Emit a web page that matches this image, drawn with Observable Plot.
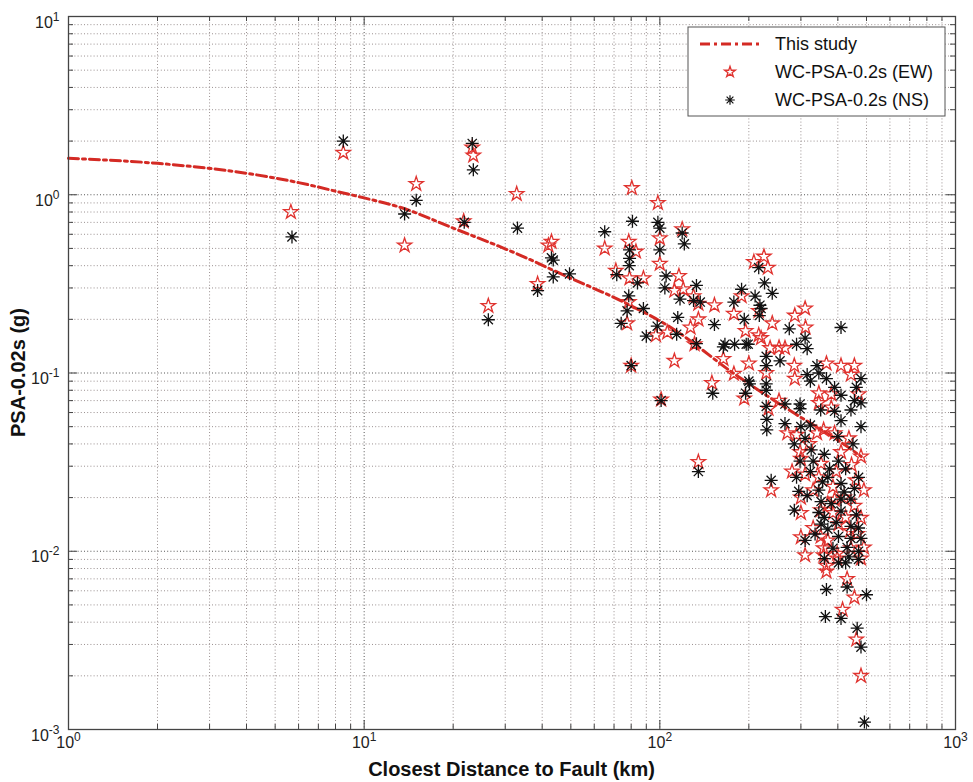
<!DOCTYPE html>
<html><head><meta charset="utf-8">
<script src="https://cdn.jsdelivr.net/npm/d3@7"></script>
<script src="https://cdn.jsdelivr.net/npm/@observablehq/plot@0.6"></script>
<style>body{margin:0;background:#fff}</style>
</head><body><div id="chart"></div>
<script>
// ---- data ----
const curveDistance = [1, 2, 4, 6, 8.35, 10, 13.4, 20, 33, 49, 74, 109, 180, 287, 400, 480];
const curvePSA = [1.6, 1.5, 1.32, 1.17, 1.03, 0.96, 0.845, 0.65, 0.465, 0.345, 0.254, 0.18, 0.098, 0.059, 0.042, 0.034];

const ewPoints = [
[5.65,0.80],[8.5,1.72],[13.7,0.52],[15,1.15],[21.7,0.71],[23.2,1.84],[23.4,1.66],[32.8,1.01],[26.3,0.238],
[43,0.545],[42,0.52],[38.6,0.316],[80.4,1.09],[98.5,0.90],[65.1,0.50],[100,0.57],[100,0.41],[119,0.64],
[78.5,0.545],[83,0.48],[71,0.375],[79,0.34],[88,0.34],[78.5,0.25],[77.5,0.19],[97,0.163],[106,0.169],
[116,0.35],[112,0.29],[120,0.295],[130,0.27],[135,0.245],[153,0.24],[135,0.20],[127,0.18],[131,0.145],
[189,0.27],[178,0.215],[195,0.172],[216,0.223],[208,0.42],[216,0.163],[225,0.45],[232,0.39],[240,0.19],
[286,0.21],[310,0.23],[311,0.18],[220,0.157],[236,0.138],[253,0.139],[265,0.138],[285,0.11],[200,0.113],
[229,0.10],[286,0.093],[366,0.113],[410,0.11],[455,0.11],[345,0.077],[380,0.076],[443,0.098],[470,0.076],
[253,0.07],[345,0.068],[380,0.064],[233,0.063],[270,0.046],[340,0.046],[358,0.048],[390,0.046],[436,0.043],
[298,0.036],[300,0.033],[479,0.034],[351,0.031],[310,0.027],[345,0.026],[385,0.023],[490,0.022],[300,0.020],
[370,0.0185],[455,0.018],[300,0.0164],[385,0.0164],[479,0.0154],[402,0.0142],[350,0.0121],[358,0.0104],
[443,0.0104],[398,0.0091],[479,0.0091],[238,0.022],[135,0.0317],[80,0.11],[101,0.071],[112,0.117],
[150,0.088],[164,0.12],[178,0.099],[193,0.072],[358,0.0095],[398,0.0097],[490,0.0105],[366,0.0083],
[366,0.0077],[430,0.007],[455,0.0055],[415,0.0047],[462,0.0032],[479,0.0020],
[320,0.04],[290,0.045],[330,0.022],[395,0.028],[420,0.02],[440,0.013],[330,0.0135],[300,0.012],[460,0.025],
[410,0.036],[280,0.028],[370,0.0115],[425,0.0155],[350,0.017],[465,0.0125],[310,0.0095],[390,0.0195],[445,0.0305]
];

const nsPoints = [
[5.7,0.58],[8.5,2.0],[13.7,0.78],[15,0.93],[21.8,0.70],[23.2,1.94],[23.4,1.38],[33,0.65],[26.3,0.199],
[43,0.443],[43.6,0.43],[43.6,0.346],[38.6,0.29],[49.5,0.36],[80.8,0.71],[65.1,0.62],[98.5,0.70],[100,0.65],
[100,0.49],[119,0.61],[121,0.53],[79,0.49],[79,0.44],[78.8,0.40],[71.5,0.356],[84,0.32],[78.5,0.271],
[77.5,0.223],[88,0.23],[74,0.19],[90,0.161],[98,0.183],[114,0.165],[105,0.35],[104,0.30],[117,0.26],
[133,0.31],[130,0.255],[137,0.25],[115,0.205],[153,0.187],[133,0.146],[166,0.145],[179,0.145],[199,0.145],
[178,0.25],[189,0.295],[210,0.27],[193,0.20],[218,0.24],[216,0.39],[226,0.32],[240,0.28],[220,0.23],
[217,0.21],[410,0.18],[274,0.177],[310,0.157],[315,0.137],[290,0.145],[196,0.145],[229,0.124],[229,0.11],
[255,0.117],[200,0.09],[229,0.087],[229,0.08],[315,0.098],[340,0.11],[366,0.093],[345,0.10],[323,0.09],
[390,0.083],[479,0.093],[462,0.083],[455,0.07],[410,0.075],[298,0.067],[265,0.067],[229,0.065],[230,0.055],
[230,0.048],[265,0.052],[300,0.05],[298,0.063],[350,0.062],[390,0.061],[443,0.062],[479,0.068],[479,0.05],
[410,0.054],[323,0.051],[310,0.043],[325,0.037],[298,0.032],[360,0.035],[402,0.032],[425,0.029],[323,0.028],
[370,0.026],[410,0.024],[470,0.026],[295,0.0217],[345,0.022],[351,0.019],[410,0.0196],[443,0.0196],
[285,0.017],[360,0.0155],[410,0.0168],[462,0.016],[351,0.0142],[443,0.0138],[370,0.0133],[402,0.0121],
[443,0.0118],[479,0.0118],[385,0.0104],[470,0.010],[360,0.0091],[436,0.0093],[238,0.025],[135,0.028],
[80,0.11],[101,0.07],[151,0.077],[201,0.087],[195,0.077],[164,0.14],[402,0.0086],[425,0.0086],[470,0.009],
[366,0.0061],[430,0.0063],[500,0.0057],[363,0.0043],[410,0.0042],[465,0.0037],[479,0.0029],[492,0.0011],
[330,0.032],[285,0.04],[345,0.0165],[380,0.0185],[420,0.0215],[455,0.0225],[335,0.0125],[310,0.0115],
[395,0.0145],[430,0.0105],[290,0.026],[375,0.029],[450,0.04],[315,0.0205],[470,0.0135],[355,0.0245],[400,0.044]
];

const xMajorTicks = [1, 10, 100, 1000];
const yMajorTicks = [0.001, 0.01, 0.1, 1, 10];
const xMinorTicks = [2,3,4,5,6,7,8,9,20,30,40,50,60,70,80,90,200,300,400,500,600,700,800,900];
const yMinorTicks = [0.002,0.003,0.004,0.005,0.006,0.007,0.008,0.009,0.02,0.03,0.04,0.05,0.06,0.07,0.08,0.09,
  0.2,0.3,0.4,0.5,0.6,0.7,0.8,0.9,2,3,4,5,6,7,8,9];
const legendLabels = ["This study", "WC-PSA-0.2s (EW)", "WC-PSA-0.2s (NS)"];
const xLabel = "Closest Distance to Fault (km)";
const yLabel = "PSA-0.02s (g)";

// ---- build ----
const curve = curveDistance.map((d, i) => ({d, g: curvePSA[i]}));
const ew = ewPoints.map(([d, g]) => ({d, g}));
const ns = nsPoints.map(([d, g]) => ({d, g}));

const W = 973, H = 782, mL = 68, mR = 18, mT = 16, mB = 53;
const innerH = H - mT - mB, innerW = W - mL - mR;
const RED = "#e0332f", CURVE = "#d42a24";

const asterisk = {
  draw(ctx, size) {
    const r = Math.sqrt(size / Math.PI), q = r * Math.SQRT1_2;
    ctx.moveTo(-r, 0); ctx.lineTo(r, 0);
    ctx.moveTo(0, -r); ctx.lineTo(0, r);
    ctx.moveTo(-q, -q); ctx.lineTo(q, q);
    ctx.moveTo(-q, q); ctx.lineTo(q, -q);
  }
};

const gridMinor = {stroke: "#9a9090", strokeDasharray: "1,2.2", strokeWidth: 1};
const gridMajor = {stroke: "#555", strokeDasharray: "1,2.2", strokeWidth: 1};
const tickStyle = {stroke: "#444", strokeWidth: 1};
const MAJ = 9, MIN = 5;

const plot = Plot.plot({
  width: W, height: H,
  marginLeft: mL, marginRight: mR, marginTop: mT, marginBottom: mB,
  style: {fontFamily: "'Liberation Sans', Arial, sans-serif", fontSize: "16px", background: "#fff", color: "#222"},
  x: {type: "log", domain: [1, 1000]},
  y: {type: "log", domain: [0.001, 10]},
  marks: [
    Plot.ruleX(xMinorTicks, {x: d => d, ...gridMinor}),
    Plot.ruleY(yMinorTicks, {y: d => d, ...gridMinor}),
    Plot.ruleX(xMajorTicks, {x: d => d, ...gridMajor}),
    Plot.ruleY(yMajorTicks, {y: d => d, ...gridMajor}),
    Plot.ruleX(xMajorTicks, {x: d => d, insetTop: innerH - MAJ, ...tickStyle}),
    Plot.ruleX(xMajorTicks, {x: d => d, insetBottom: innerH - MAJ, ...tickStyle}),
    Plot.ruleX(xMinorTicks, {x: d => d, insetTop: innerH - MIN, ...tickStyle}),
    Plot.ruleX(xMinorTicks, {x: d => d, insetBottom: innerH - MIN, ...tickStyle}),
    Plot.ruleY(yMajorTicks, {y: d => d, insetRight: innerW - MAJ, ...tickStyle}),
    Plot.ruleY(yMajorTicks, {y: d => d, insetLeft: innerW - MAJ, ...tickStyle}),
    Plot.ruleY(yMinorTicks, {y: d => d, insetRight: innerW - MIN, ...tickStyle}),
    Plot.ruleY(yMinorTicks, {y: d => d, insetLeft: innerW - MIN, ...tickStyle}),
    Plot.line(curve, {x: "d", y: "g", stroke: CURVE, strokeWidth: 3, strokeDasharray: "10,4,3,4", curve: "monotone-x"}),
    Plot.dot(ew, {x: "d", y: "g", symbol: "star", r: 4.5, fill: "none", stroke: RED, strokeWidth: 1.3}),
    Plot.dot(ns, {x: "d", y: "g", symbol: asterisk, r: 6.5, fill: "none", stroke: "#111", strokeWidth: 1.3}),
    Plot.frame({stroke: "#444", strokeWidth: 1.3}),
    Plot.axisX(xMajorTicks, {tickSize: 0, tickPadding: 7, tickFormat: d => String(Math.round(Math.log10(d))), label: null, fontSize: 16}),
    Plot.axisY(yMajorTicks, {tickSize: 0, tickPadding: 9, tickFormat: d => String(Math.round(Math.log10(d))), label: null, fontSize: 16})
  ]
});

document.getElementById("chart").appendChild(plot);
const svg = d3.select(plot);

svg.selectAll('g[aria-label="x-axis tick label"] text, g[aria-label="y-axis tick label"] text').each(function() {
  const e = this.textContent.replace("\u2212", "-");
  this.textContent = "";
  const t = d3.select(this);
  t.append("tspan").text("10");
  t.append("tspan").attr("dy", "-7").attr("font-size", "12px").text(e);
});
svg.selectAll('g[aria-label="y-axis tick label"] text').attr("dy", "0.38em");

svg.append("text").attr("x", mL + innerW / 2).attr("y", 776).attr("text-anchor", "middle")
  .attr("font-weight", "bold").attr("font-size", "20px").attr("fill", "#111").text(xLabel);
svg.append("text").attr("transform", `translate(25,${mT + innerH / 2}) rotate(-90)`).attr("text-anchor", "middle")
  .attr("font-weight", "bold").attr("font-size", "20px").attr("fill", "#111").text(yLabel);

const lg = svg.append("g");
lg.append("rect").attr("x", 688).attr("y", 27).attr("width", 257).attr("height", 89)
  .attr("fill", "#fff").attr("stroke", "#555").attr("stroke-width", 1);
const rows = [44, 72, 100];
lg.append("line").attr("x1", 700).attr("x2", 762).attr("y1", rows[0]).attr("y2", rows[0])
  .attr("stroke", CURVE).attr("stroke-width", 3).attr("stroke-dasharray", "10,4,3,4");
lg.append("path").attr("transform", `translate(730,${rows[1]})`)
  .attr("d", d3.symbol(d3.symbolStar, Math.PI * 3.4 * 3.4)()).attr("fill", "none").attr("stroke", RED).attr("stroke-width", 1.3);
lg.append("path").attr("transform", `translate(730,${rows[2]})`)
  .attr("d", d3.symbol(asterisk, Math.PI * 4.8 * 4.8)()).attr("fill", "none").attr("stroke", "#111").attr("stroke-width", 1.2);
legendLabels.forEach((s, i) => {
  lg.append("text").attr("x", 775).attr("y", rows[i]).attr("dy", "0.36em").attr("text-anchor", "start")
    .attr("font-size", "18px").attr("fill", "#111").text(s);
});
</script>
</body></html>
